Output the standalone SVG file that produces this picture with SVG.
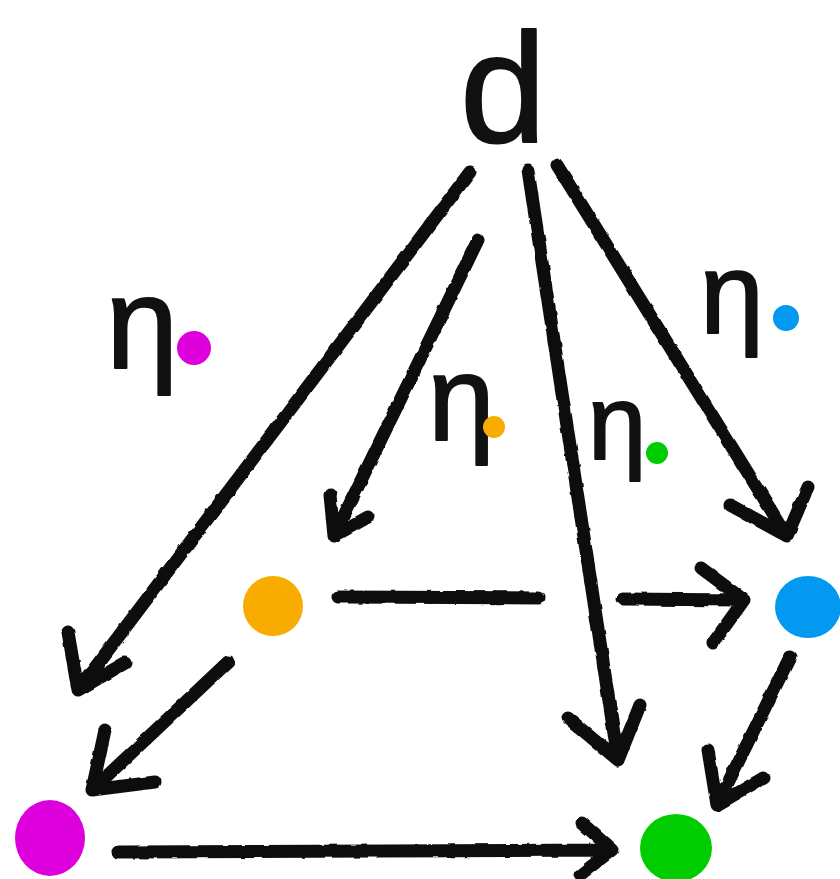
<svg xmlns="http://www.w3.org/2000/svg" width="840" height="879" viewBox="0 0 840 879">
  <style>
    .bg { fill: #ffffff; }
    .ln { fill: none; stroke: #111111; stroke-width: 13; stroke-linecap: round; stroke-linejoin: round; }
    .lbl { font-family: "Liberation Sans", Arial, sans-serif; fill: #111111; stroke: #111111; stroke-width: 2; stroke-linejoin: round; }
    .mag { fill: #dd00dd; }
    .ora { fill: #f8ac00; }
    .grn { fill: #00cc00; }
    .blu { fill: #0399f0; }
  </style>
  <defs>
    <filter id="rough" x="-5%" y="-5%" width="110%" height="110%">
      <feTurbulence type="fractalNoise" baseFrequency="0.08" numOctaves="2" seed="3" result="n"/>
      <feDisplacementMap in="SourceGraphic" in2="n" scale="3" xChannelSelector="R" yChannelSelector="G"/>
    </filter>
  </defs>
  <rect class="bg" x="0" y="0" width="840" height="879"/>

  <g id="connectors" filter="url(#rough)">
    <!-- d -> magenta -->
    <path class="ln" d="M470,172 L78,690 M68,632 L78,690 L125,663"/>
    <!-- d -> orange -->
    <path class="ln" d="M478,240 L334,536 M330,495 L334,536 L368,517"/>
    <!-- d -> green -->
    <path class="ln" d="M528,170 L618,760 M568,718 L618,760 L640,705"/>
    <!-- d -> blue -->
    <path class="ln" d="M557,165 L787,536 M730,505 L787,536 L808,487"/>
    <!-- orange -> blue (broken where crossed) -->
    <path class="ln" d="M338,597 L538,598 M622,599 L744,600 M701,568 L744,600 L713,643"/>
    <!-- orange -> magenta -->
    <path class="ln" d="M228,662 L92,790 M105,730 L92,790 L155,782"/>
    <!-- blue -> green -->
    <path class="ln" d="M790,657 L717,805 M708,750 L717,805 L763,778"/>
    <!-- magenta -> green -->
    <path class="ln" d="M118,852 L612,850 M582,823 L612,850 L580,875"/>
  </g>

  <g id="node-d">
    <text class="lbl" x="460" y="142" font-size="155" stroke-width="4">d</text>
  </g>

  <g id="node-orange"><circle class="ora" cx="273" cy="606" r="30"/></g>
  <g id="node-blue"><ellipse class="blu" cx="808" cy="607" rx="33" ry="31"/></g>
  <g id="node-magenta"><ellipse class="mag" cx="50" cy="838" rx="35" ry="38"/></g>
  <g id="node-green"><ellipse class="grn" cx="676" cy="848" rx="36" ry="34"/></g>

  <g id="label-magenta">
    <text class="lbl" x="106" y="368" font-size="130">η</text>
    <circle class="mag" cx="194" cy="348" r="17"/>
  </g>
  <g id="label-orange">
    <text class="lbl" x="428" y="440" font-size="120">η</text>
    <circle class="ora" cx="494" cy="427" r="11"/>
  </g>
  <g id="label-green">
    <text class="lbl" x="588" y="459" font-size="105">η</text>
    <circle class="grn" cx="657" cy="453" r="11"/>
  </g>
  <g id="label-blue">
    <text class="lbl" x="700" y="333" font-size="115">η</text>
    <circle class="blu" cx="786" cy="318" r="13"/>
  </g>
</svg>
